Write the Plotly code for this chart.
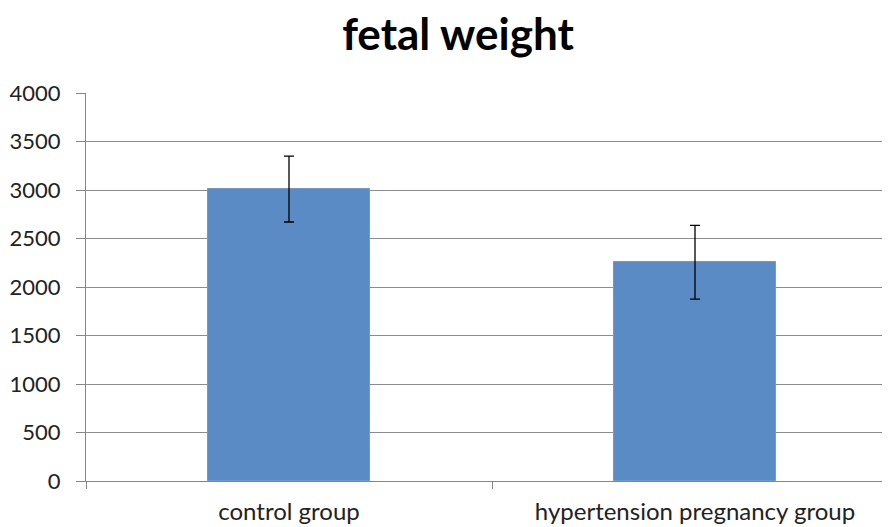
import plotly.graph_objects as go

categories = ["control group", "hypertension pregnancy group"]
values = [3010, 2255]
errors = [340, 380]
y_ticks = [0, 500, 1000, 1500, 2000, 2500, 3000, 3500, 4000]

# page body has an 8px margin, so the figure is shifted by (8, 8) on screen
fig = go.Figure()
fig.add_trace(go.Bar(
    x=categories, y=values, width=0.4,
    marker=dict(color="#5b8bc4", line=dict(color="#6f98cc", width=1)),
    error_y=dict(type="data", array=errors, visible=True, color="#000000", thickness=1.3, width=5),
))

fig.update_layout(
    width=890, height=527,
    margin=dict(l=78, r=0, t=85, b=54),
    paper_bgcolor="white", plot_bgcolor="white",
    showlegend=False,
    title=dict(text="<b>fetal weight</b>", x=450/890, xref="container", xanchor="center",
               y=1 - 27/527, yanchor="middle",
               font=dict(family="Lato", size=44, color="#000000")),
    font=dict(family="Lato", color="#222222"),
    bargap=0,
)
fig.update_xaxes(
    type="category",
    range=[-0.5, 1.5],
    tickson="boundaries",
    ticks="outside", ticklen=7, tickcolor="#868686",
    showline=True, linecolor="#868686", linewidth=1,
    showgrid=False, zeroline=False, automargin=False,
    tickfont=dict(family="Lato", size=24, color="#222222"),
    ticklabelstandoff=9,
)
fig.update_yaxes(
    range=[0, 4000], tickvals=y_ticks,
    ticks="outside", ticklen=9, tickcolor="#868686",
    showline=True, linecolor="#868686", linewidth=1,
    showgrid=True, gridcolor="#8c8c8c", gridwidth=1, zeroline=False, automargin=False,
    tickfont=dict(family="Lato", size=22, color="#222222"),
    ticklabelstandoff=11,
)

fig.write_html("out.html")
